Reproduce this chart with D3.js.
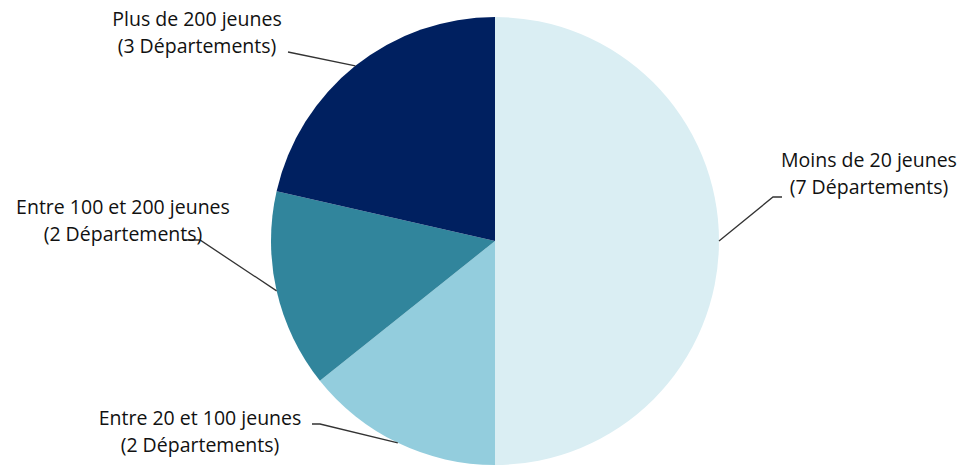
<!DOCTYPE html>
<html>
<head>
<meta charset="utf-8">
<script src="https://cdn.jsdelivr.net/npm/d3@7"></script>
<style>
	body { margin: 0; background: #fff; }
	text { font-family: "Open Sans", sans-serif; font-size: 19.5px; fill: #111; }
</style>
</head>
<body>
<div id="chart"></div>
<script>
let categories	= ['Moins de 20 jeunes', 'Entre 20 et 100 jeunes', 'Entre 100 et 200 jeunes', 'Plus de 200 jeunes'];
let counts		= [7, 2, 2, 3];
let subLabels	= ['(7 Départements)', '(2 Départements)', '(2 Départements)', '(3 Départements)'];
let colors		= ['#daeef3', '#93cddd', '#31859c', '#002060'];

// label anchor (text centre x, first line y) and where the leader line starts
let labelPos	= [
	{ x: 869, y: 160, lx: 773, ly: 197, hx: 782 },
	{ x: 200, y: 418, lx: 320, ly: 424, hx: 312 },
	{ x: 123, y: 207, lx: 200, ly: 240, hx: 183 },
	{ x: 197, y: 19,  lx: 288, ly: 52,  hx: 288 }
];

let canvasWidth		= 968;
let canvasHeight	= 466;
let cx				= 495;
let cy				= 241;
let radius			= 224;

let svg = d3.select('#chart').append('svg')
	.attr('width', canvasWidth)
	.attr('height', canvasHeight);

let data = categories.map((c, i) => ({ name: c, value: counts[i], sub: subLabels[i], color: colors[i], pos: labelPos[i] }));

let pie = d3.pie().sort(null).value((o) => o.value);
let arc = d3.arc().innerRadius(0).outerRadius(radius);

let g = svg.append('g')
	.attr('transform', 'translate(' + cx + ',' + cy + ')');

let arcs = pie(data);

g.selectAll('.slice')
	.data(arcs).enter().append('path')
		.attr('class', 'slice')
		.attr('d', arc)
		.attr('fill', (o) => o.data.color);

// leader lines from slice edge to label
svg.selectAll('.leader')
	.data(arcs).enter().append('polyline')
		.attr('class', 'leader')
		.attr('fill', 'none')
		.attr('stroke', '#333')
		.attr('stroke-width', 1.3)
		.attr('points', (o) => {
			let a	= (o.startAngle + o.endAngle) / 2;
			let ex	= cx + Math.sin(a) * radius;
			let ey	= cy - Math.cos(a) * radius;
			let p	= o.data.pos;
			return [[p.hx, p.ly], [p.lx, p.ly], [ex, ey]].map((q) => q.join(',')).join(' ');
		});

let labels = svg.selectAll('.label')
	.data(arcs).enter().append('text')
		.attr('class', 'label')
		.attr('text-anchor', 'middle');

labels.append('tspan')
	.attr('x', (o) => o.data.pos.x)
	.attr('y', (o) => o.data.pos.y)
	.attr('dy', '0.35em')
	.text((o) => o.data.name);

labels.append('tspan')
	.attr('x', (o) => o.data.pos.x)
	.attr('y', (o) => o.data.pos.y + 27)
	.attr('dy', '0.35em')
	.text((o) => o.data.sub);
</script>
</body>
</html>
